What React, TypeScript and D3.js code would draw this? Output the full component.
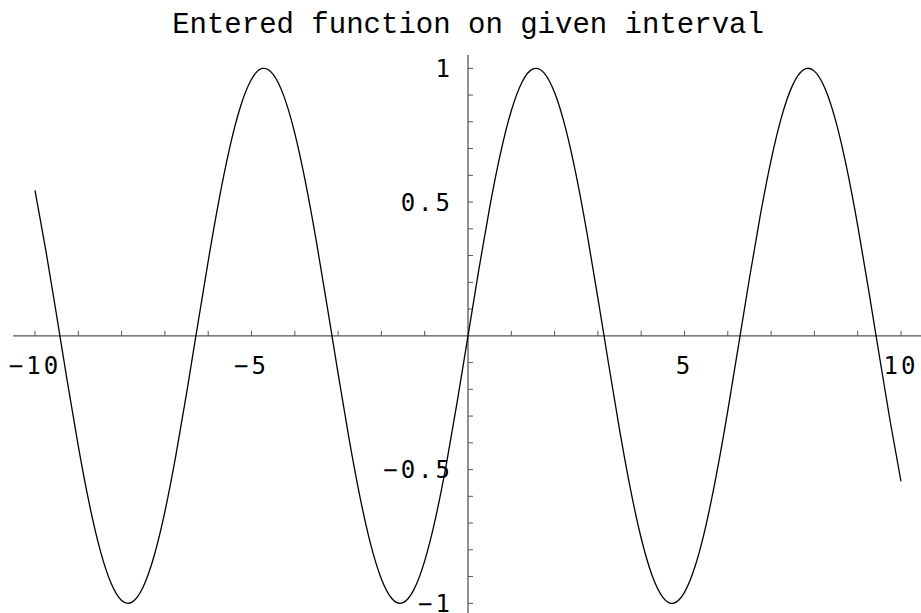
import React from "react";
import * as d3 from "d3";

const title = "Entered function on given interval";

const xSamples = [
  -10, -9.75, -9.5, -9.25, -9, -8.75, -8.5, -8.25, -8, -7.75, -7.5, -7.25, -7, -6.75, -6.5, -6.25,
  -6, -5.75, -5.5, -5.25, -5, -4.75, -4.5, -4.25, -4, -3.75, -3.5, -3.25, -3, -2.75, -2.5, -2.25,
  -2, -1.75, -1.5, -1.25, -1, -0.75, -0.5, -0.25, 0, 0.25, 0.5, 0.75, 1, 1.25, 1.5, 1.75,
  2, 2.25, 2.5, 2.75, 3, 3.25, 3.5, 3.75, 4, 4.25, 4.5, 4.75, 5, 5.25, 5.5, 5.75,
  6, 6.25, 6.5, 6.75, 7, 7.25, 7.5, 7.75, 8, 8.25, 8.5, 8.75, 9, 9.25, 9.5, 9.75, 10,
];
const ySamples = [
  0.544, 0.3195, 0.0752, -0.1739, -0.4121, -0.6247, -0.7985, -0.9224, -0.9894, -0.9946, -0.938, -0.8231, -0.657, -0.45, -0.2151, 0.0332,
  0.2794, 0.5082, 0.7055, 0.8589, 0.9589, 0.9993, 0.9775, 0.895, 0.7568, 0.5716, 0.3508, 0.1082, -0.1411, -0.3817, -0.5985, -0.7781,
  -0.9093, -0.984, -0.9975, -0.949, -0.8415, -0.6816, -0.4794, -0.2474, 0, 0.2474, 0.4794, 0.6816, 0.8415, 0.949, 0.9975, 0.984,
  0.9093, 0.7781, 0.5985, 0.3817, 0.1411, -0.1082, -0.3508, -0.5716, -0.7568, -0.895, -0.9775, -0.9993, -0.9589, -0.8589, -0.7055, -0.5082,
  -0.2794, -0.0332, 0.2151, 0.45, 0.657, 0.8231, 0.938, 0.9946, 0.9894, 0.9224, 0.7985, 0.6247, 0.4121, 0.1739, -0.0752, -0.3195, -0.544,
];

const xMinorTicks = [-10, -9, -8, -7, -6, -5, -4, -3, -2, -1, 1, 2, 3, 4, 5, 6, 7, 8, 9, 10];
const xLabelTicks = [-10, -5, 5, 10];
const xLabels = ["\u221210", "\u22125", "5", "10"];
const yMinorTicks = [-1, -0.9, -0.8, -0.7, -0.6, -0.5, -0.4, -0.3, -0.2, -0.1, 0.1, 0.2, 0.3, 0.4, 0.5, 0.6, 0.7, 0.8, 0.9, 1];
const yLabelTicks = [1, 0.5, -0.5, -1];
const yLabels = ["1", "0.5", "\u22120.5", "\u22121"];

export default function App() {
  const W = 921;
  const H = 613;
  const x = d3.scaleLinear().domain([-10, 10]).range([35, 901]);
  const y = d3.scaleLinear().domain([-1, 1]).range([603.3, 68.3]);
  const x0 = x(0);
  const y0 = y(0);
  const pts = xSamples.map((v, i) => [v, ySamples[i]] as [number, number]);
  const line = d3
    .line<[number, number]>()
    .x((d) => x(d[0]))
    .y((d) => y(d[1]))
    .curve(d3.curveNatural);
  const axisColor = "#555";
  const labelFont = "'DejaVu Sans Mono', monospace";
  return (
    <svg
      width={W}
      height={H}
      style={{ position: "absolute", left: 0, top: 0, background: "#fff" }}
    >
      <rect x={0} y={0} width={W} height={H} fill="#fff" />
      <text
        x={468}
        y={33}
        textAnchor="middle"
        fontFamily="'Liberation Mono', 'Courier New', monospace"
        fontSize={29}
        fill="#000"
      >
        {title}
      </text>
      {/* x axis */}
      <line x1={13} x2={921} y1={y0} y2={y0} stroke={axisColor} strokeWidth={1.3} />
      {xMinorTicks.map((t) => (
        <line key={"xt" + t} x1={x(t)} x2={x(t)} y1={y0} y2={y0 - 5} stroke={axisColor} strokeWidth={1} />
      ))}
      {xLabelTicks.map((t, i) => (
        <text
          key={"xl" + t}
          x={x(t)}
          y={374}
          textAnchor="middle"
          fontFamily={labelFont}
          fontSize={24}
          letterSpacing={3}
          fill="#000"
        >
          {xLabels[i]}
        </text>
      ))}
      {/* y axis */}
      <line x1={x0} x2={x0} y1={55} y2={613} stroke={axisColor} strokeWidth={1.3} />
      {yMinorTicks.map((t) => (
        <line key={"yt" + t} x1={x0} x2={x0 + 5} y1={y(t)} y2={y(t)} stroke={axisColor} strokeWidth={1} />
      ))}
      {yLabelTicks.map((t, i) => (
        <text
          key={"yl" + t}
          x={453}
          y={y(t) + 8.5}
          textAnchor="end"
          fontFamily={labelFont}
          fontSize={24}
          letterSpacing={3}
          fill="#000"
        >
          {yLabels[i]}
        </text>
      ))}
      <path d={line(pts) || ""} fill="none" stroke="#000" strokeWidth={1.3} />
    </svg>
  );
}
